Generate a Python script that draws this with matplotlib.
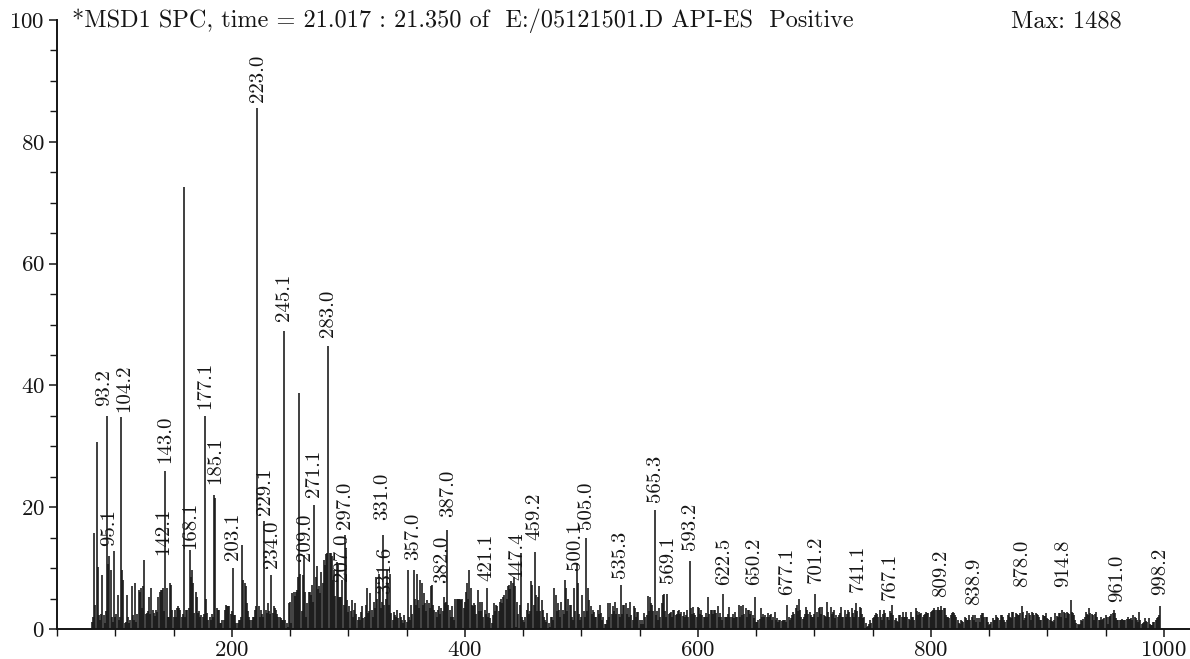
import numpy as np
import matplotlib
matplotlib.use("Agg")
import matplotlib.pyplot as plt

# ---------------- data ----------------
# relative abundance (%) at integer m/z, in four consecutive segments
seg_a_start = 80
seg_a = [1.2, 2.0, 15.7, 4.0, 30.7, 10.2, 2.3, 1.5, 2.5, 8.9,
         2.3, 1.0, 3.0, 35.0, 10.6, 12.0, 9.7, 2.0, 1.2, 12.8,
         2.0, 2.5, 5.6, 1.5, 2.0, 34.8, 9.7, 8.0, 1.0, 1.2,
         5.6, 2.0, 1.0, 1.5, 7.0, 2.3, 1.5, 7.5, 1.2, 2.5,
         6.4, 6.0, 6.7, 3.5, 7.0, 11.4, 2.5, 2.6, 3.0, 5.3,
         2.5, 6.7, 3.1, 2.6, 2.2, 3.1, 2.8, 5.3, 6.1, 6.4,
         6.4, 6.7, 3.0, 26.0, 6.7, 2.0, 2.0, 7.5, 7.2, 3.1,
         2.0, 3.1, 2.0, 3.4, 3.7, 3.4, 3.1, 2.0, 2.5, 72.5,
         2.0, 3.1, 3.1, 3.5, 12.9, 8.6, 9.7, 7.5, 2.6, 6.1,
         5.3, 2.6, 3.0, 2.0, 2.3, 2.0, 2.5, 35.0, 5.0, 2.6,
         1.5, 2.0, 1.5, 2.5, 2.0, 22.0, 21.5, 3.4, 3.1, 3.1,
         1.0, 1.0, 1.5, 1.5, 3.1, 3.9, 3.7, 3.7, 3.7, 2.5,
         3.0, 10.0, 2.3, 2.3, 1.0, 1.0, 1.5, 1.5, 2.0, 13.8,
         8.0, 7.5, 7.0, 4.2, 3.0, 2.0, 1.5, 1.5, 2.0, 2.0,
         3.1, 3.7, 85.5, 3.7, 2.0, 3.1, 2.5, 2.0, 17.7, 3.1,
         2.6, 4.2, 3.0, 2.5, 8.9, 2.6, 3.7, 3.4, 3.1, 2.5,
         2.0, 2.0, 1.8, 1.5, 1.5, 49.0, 1.5, 1.0, 0.4, 4.2,
         4.5, 1.0, 5.9, 6.1, 5.5, 6.1, 6.4, 8.6, 38.8, 9.1,
         3.0, 8.9, 12.2, 6.1, 2.0, 4.2, 6.0, 6.0, 5.6, 7.2,
         4.5, 20.4, 8.6, 10.3, 6.5, 7.0, 5.9, 9.4, 7.5, 11.3,
         10.5, 12.3, 12.5, 46.5, 12.5, 12.4, 12.0, 8.0, 9.7, 5.5,
         11.0, 10.5, 5.3, 5.3, 5.3, 8.0, 4.0, 15.5, 13.0, 4.8,
         2.8, 3.7, 3.0, 4.8, 2.0]

seg_b_start = 305
seg_b = [3.1, 4.2, 2.5, 1.5, 2.0, 1.5, 2.8, 3.7, 1.8, 2.0,
         4.0, 6.7, 2.6, 3.0, 5.9, 3.1, 2.0, 4.5, 3.4, 8.6,
         5.0, 9.1, 6.7, 3.5, 4.5, 15.5, 3.9, 5.0, 9.7, 7.5,
         4.0, 9.1, 2.6, 1.5, 2.8, 2.3, 2.0, 3.1, 1.8, 2.6,
         2.0, 1.5, 1.0, 2.3, 1.5, 1.2, 9.7, 2.0, 1.5, 3.9,
         2.5, 9.7, 5.0, 4.0, 9.1, 4.7, 3.5, 8.0, 7.5, 4.0,
         5.9, 4.2, 3.0, 4.7, 4.2, 3.5, 7.0, 7.2, 4.0, 3.1,
         2.8, 2.0, 3.1, 3.7, 2.5, 3.4, 3.0, 5.3, 4.2, 4.5,
         16.3, 4.0, 3.1, 2.0, 3.7, 2.0, 1.5, 5.0, 5.0, 5.0,
         5.0, 5.0, 4.8, 5.0, 3.5, 4.5, 6.1, 7.5, 5.0, 9.7,
         6.7, 4.0, 3.7, 4.2, 3.9, 2.5, 6.4, 3.0, 4.5, 3.0,
         4.5, 2.0, 3.1, 2.5, 6.7, 2.0, 2.6, 1.8, 1.0, 2.3,
         4.2, 3.0, 3.9, 3.7, 3.0, 4.5, 5.0, 4.2, 5.3, 5.6,
         6.4, 5.0, 7.0, 7.2, 6.5, 7.8, 7.5, 8.6, 7.0, 0.4,
         4.5, 2.5, 3.9, 12.5, 2.0, 1.5, 1.2, 2.0, 3.1, 4.2,
         2.5, 3.0, 7.8, 7.2, 4.0, 12.7, 5.6, 3.0, 5.3, 7.0,
         3.0, 4.7, 3.1, 2.0, 1.5, 1.2, 2.6, 1.0, 0.4, 2.0,
         2.0, 1.5, 6.7, 5.6, 3.0, 4.2, 3.1, 2.0, 4.5, 3.1,
         2.5, 8.0, 6.7, 3.0, 5.0, 4.0, 3.9, 2.0, 1.5, 6.7,
         3.0, 10.8, 7.5, 2.5, 1.5, 2.0, 5.6, 3.0, 2.0, 14.9,
         3.0, 6.7, 4.8, 3.7, 2.5, 3.1, 2.8, 2.0, 2.0, 3.1,
         2.5, 3.9, 2.6, 1.5, 2.0, 0.9, 0.9, 1.5, 4.2, 2.0,
         4.2, 2.5, 3.7, 3.0, 4.5, 2.5, 3.4, 2.5, 2.0, 7.2,
         2.5, 4.0]

seg_c_start = 537
seg_c = [3.9, 4.2, 2.5, 3.4, 2.0, 4.5, 2.3, 1.5, 3.7, 3.4,
         2.0, 2.8, 2.8, 1.5, 0.9, 1.5, 0.9, 2.6, 2.0, 2.3,
         5.4, 3.0, 5.2, 4.2, 3.9, 3.0, 19.5, 2.3, 3.0, 1.5,
         3.4, 2.0, 4.2, 5.6, 5.7, 3.0, 2.0, 5.7, 2.5, 2.6,
         2.8, 2.0, 3.2, 3.1, 2.3, 2.5, 3.0, 3.2, 2.4, 2.8,
         2.1, 2.8, 2.0, 2.3, 3.1, 2.0, 11.1, 3.4, 2.5, 3.6,
         2.6, 2.3, 2.0, 3.6, 3.4, 2.5, 3.1, 2.3, 2.0, 2.0,
         2.6, 2.0, 5.3, 2.5, 3.2, 3.2, 2.5, 3.2, 3.2, 2.6,
         3.8, 2.0, 2.6, 2.0, 1.5, 5.7, 2.0, 2.0, 1.9, 2.5,
         3.6, 2.0, 2.0, 2.5, 1.8, 2.8, 2.0, 2.0, 3.9, 2.0,
         3.8, 2.3, 3.9, 2.5, 3.4, 2.0, 3.2, 3.1, 2.5, 3.0,
         2.3, 1.8, 5.3, 1.2, 1.2, 1.5, 1.6, 3.4, 2.0, 2.5,
         2.0, 2.3, 2.0, 2.6, 2.0, 2.3, 2.5, 1.5, 2.0, 2.8,
         1.5, 1.8, 1.2, 1.5, 1.5, 1.3, 1.4, 1.5, 1.5, 1.2,
         3.9, 2.0, 1.5, 1.8, 2.3, 2.8, 2.5, 3.4, 3.9, 3.0,
         4.9, 3.1, 2.0, 1.6, 2.0, 2.5, 3.6, 3.2, 2.5, 2.8,
         2.3, 2.0, 2.0, 2.5, 5.7, 2.8, 2.0, 3.4, 3.6, 2.5,
         3.6, 2.3, 2.1, 2.0, 4.5, 2.8, 2.0, 3.6, 2.5, 2.8,
         3.2, 1.8, 2.3, 2.0, 2.3, 2.6, 3.6, 2.0, 1.9, 3.1,
         2.0, 2.5, 3.2, 2.8, 2.0, 3.4, 2.7, 2.0, 3.1, 4.2,
         3.0, 2.0, 3.6, 3.4, 2.5, 1.8, 2.0, 1.0, 0.3, 0.5,
         0.8, 1.4, 1.0, 1.8, 2.0, 2.3, 2.6, 2.5, 2.0, 3.1,
         1.9, 1.5, 2.5, 3.1, 2.6, 2.0, 2.0, 1.4, 3.0, 2.6,
         3.9, 2.3]

seg_d_start = 769
seg_d = [1.5, 1.75, 1.3, 1.2, 2.3, 2.3, 2.0, 2.85, 2.0, 2.0,
         2.85, 2.0, 1.6, 1.5, 2.85, 2.0, 2.0, 1.5, 3.4, 3.0,
         2.3, 2.85, 2.5, 2.6, 2.0, 2.3, 2.5, 2.85, 2.6, 2.6,
         2.0, 2.85, 3.0, 3.2, 3.4, 3.2, 3.1, 3.6, 3.2, 3.1,
         3.7, 3.2, 3.4, 3.4, 2.3, 2.0, 2.0, 1.75, 2.3, 2.6,
         2.85, 2.7, 2.3, 2.0, 1.5, 1.0, 0.9, 1.5, 1.3, 1.2,
         2.0, 1.75, 1.5, 1.5, 2.3, 1.5, 2.0, 2.3, 1.5, 2.3,
         1.2, 1.75, 1.75, 1.2, 2.3, 2.6, 2.6, 1.9, 2.0, 2.0,
         1.2, 0.65, 0.9, 1.2, 1.75, 1.5, 1.5, 2.3, 2.0, 1.75,
         1.5, 2.3, 2.3, 2.0, 1.5, 1.2, 1.5, 2.3, 2.6, 2.0,
         1.75, 2.85, 2.85, 2.0, 2.6, 2.5, 2.3, 2.3, 2.6, 3.7,
         2.85, 1.5, 1.75, 2.3, 3.0, 2.6, 2.3, 1.5, 2.85, 2.6,
         2.3, 2.6, 2.4, 2.3, 2.0, 1.5, 1.5, 2.3, 2.1, 2.2,
         2.6, 1.75, 1.6, 1.5, 2.0, 1.3, 1.2, 1.5, 2.6, 2.2,
         2.0, 2.7, 2.6, 2.0, 3.1, 2.8, 2.6, 1.75, 2.8, 2.6,
         2.4, 4.8, 2.85, 2.7, 2.3, 1.5, 1.0, 0.9, 0.65, 0.8,
         1.5, 1.3, 1.7, 2.0, 2.85, 2.5, 2.3, 3.4, 2.6, 2.5,
         2.3, 1.5, 2.5, 2.8, 2.0, 1.5, 1.4, 2.0, 1.5, 1.7,
         1.75, 2.3, 1.9, 0.9, 2.0, 2.2, 2.4, 2.6, 3.1, 2.7,
         1.75, 1.5, 1.5, 1.5, 1.5, 1.6, 1.5, 1.5, 1.5, 1.7,
         2.0, 1.6, 1.6, 1.75, 1.5, 2.3, 2.0, 1.75, 1.4, 1.1,
         2.85, 1.5, 0.9, 1.0, 1.2, 1.75, 1.3, 1.2, 1.8, 0.9,
         0.65, 0.7, 1.1, 1.2, 1.5, 1.75, 2.0, 2.3, 3.7]

# peak annotations: x position (m/z on axis), bottom of label (%), text
label_pos = [90.5, 94.8, 107.5, 141.5, 143, 164.5, 177, 185.5, 201, 222.3,
             228.5, 234.5, 245, 263, 271, 283, 295, 297.5, 329.5, 332,
             356, 380.5, 385.5, 419, 445.5, 460, 494.5, 504.2, 533.5, 563,
             574.5, 593, 622.4, 648.7, 676.7, 701, 737.4, 764.6, 808.9, 837.5,
             878.2, 913.3, 959.9, 997.3]
label_base = [36.6, 13.7, 35.7, 12.2, 27.2, 13.1, 36.2, 23.8, 11.3, 86.6,
              18.8, 10.0, 50.6, 11.2, 21.7, 48.0, 7.9, 16.5, 17.9, 5.7,
              11.3, 7.5, 18.4, 7.9, 8.0, 14.6, 9.7, 16.5, 8.3, 20.8,
              7.5, 13.0, 7.2, 7.2, 5.6, 7.5, 6.1, 4.8, 5.3, 3.9,
              6.9, 6.9, 4.5, 5.6]
label_text = ["93.2", "95.1", "104.2", "142.1", "143.0", "168.1", "177.1", "185.1",
              "203.1", "223.0", "229.1", "234.0", "245.1", "209.0", "271.1", "283.0",
              "207.0", "297.0", "331.0", "331.6", "357.0", "382.0", "387.0", "421.1",
              "447.4", "459.2", "500.1", "505.0", "535.3", "565.3", "569.1", "593.2",
              "622.5", "650.2", "677.1", "701.2", "741.1", "767.1", "809.2", "838.9",
              "878.0", "914.8", "961.0", "998.2"]

x_major = [200, 400, 600, 800, 1000]
y_major = [0, 20, 40, 60, 80, 100]

title_left = "*MSD1 SPC, time = 21.017 : 21.350 of  E:/05121501.D API-ES  Positive"
title_right = "Max: 1488"

# ---------------- plotting ----------------
plt.rcParams['font.family'] = ['cmr10', 'DejaVu Serif']
plt.rcParams['axes.formatter.use_mathtext'] = True

mz = []
ab = []
for start, seg in [(seg_a_start, seg_a), (seg_b_start, seg_b),
                   (seg_c_start, seg_c), (seg_d_start, seg_d)]:
    mz.extend(np.arange(start, start + len(seg)))
    ab.extend(seg)
mz = np.array(mz, dtype=float)
ab = np.array(ab, dtype=float)

W, H = 1190, 659
fig = plt.figure(figsize=(W / 100, H / 100), dpi=100)
ax = fig.add_axes([57 / W, 30 / H, (W - 57) / W, (629 - 20) / H])

ink = '#151515'
ax.vlines(mz, 0, ab, colors=ink, linewidth=1.15)

ax.set_xlim(50, 1022.5)
ax.set_ylim(0, 100)

for s in ['top', 'right']:
    ax.spines[s].set_visible(False)
for s in ['left', 'bottom']:
    ax.spines[s].set_linewidth(1.4)
    ax.spines[s].set_color(ink)

ax.set_xticks(x_major)
ax.set_xticks(np.arange(50, 1001, 50), minor=True)
ax.set_yticks(y_major)
ax.set_yticks(np.arange(0, 101, 5), minor=True)
ax.tick_params(axis='both', which='major', direction='out', length=6, width=1.1,
               color=ink, labelsize=16.5, labelcolor=ink, pad=3)
ax.tick_params(axis='x', which='major', pad=2)
ax.tick_params(axis='both', which='minor', direction='out', length=5, width=1.0,
               color=ink)

for x, b, t in zip(label_pos, label_base, label_text):
    ax.text(x, b, t, rotation=90, ha='center', va='bottom', fontsize=15, color=ink)

fig.text(72 / W, 1 - 21 / H, title_left, ha='left', va='center', fontsize=17.5, color=ink)
fig.text(1122 / W, 1 - 21 / H, title_right, ha='right', va='center', fontsize=17.5, color=ink)

fig.savefig('out.png', dpi=100)
